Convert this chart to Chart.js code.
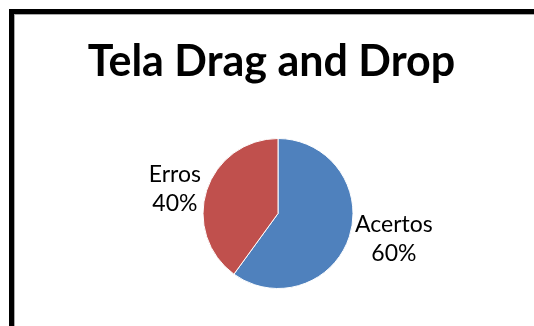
<!DOCTYPE html>
<html>
<head>
<meta charset="utf-8">
<script src="https://cdn.jsdelivr.net/npm/chart.js@4"></script>
<style>
  html, body { margin: 0; padding: 0; background: #fff; overflow: hidden; }
  canvas { display: block; }
</style>
</head>
<body>
<canvas id="pieChart" width="534" height="326"></canvas>
<script>
const chartTitle = 'Tela Drag and Drop';
const categories = ['Acertos', 'Erros'];
const percentages = [60, 40];
const sliceColors = ['#4F81BD', '#C0504D'];

// black chart frame, only the left and top edges are inside the picture
const frame = {
    id: 'frame',
    beforeDraw(chart) {
        const ctx = chart.ctx;
        ctx.save();
        ctx.fillStyle = '#fff';
        ctx.fillRect(0, 0, chart.width, chart.height);
        ctx.fillStyle = '#000';
        ctx.fillRect(9, 9, chart.width - 9, 5);
        ctx.fillRect(9, 9, 5, chart.height - 9);
        ctx.fillStyle = '#aaa';
        ctx.fillRect(14, 14, chart.width - 14, 1);
        ctx.fillRect(14, 14, 1, chart.height - 14);
        ctx.restore();
    }
};

// writes "Nome" + "NN%" just outside each slice, like Excel's best fit labels
const outsideLabels = {
    id: 'outsideLabels',
    afterDraw(chart) {
        const ctx = chart.ctx;
        ctx.save();
        ctx.fillStyle = '#000';
        ctx.textAlign = 'center';
        ctx.textBaseline = 'alphabetic';

        // title
        ctx.font = 'bold 43px Lato';
        ctx.fillText(chartTitle, 271.5, 76);

        ctx.font = '23px Lato';
        const meta = chart.getDatasetMeta(0);
        meta.data.forEach((arc, i) => {
            const p = arc.getProps(['x', 'y', 'startAngle', 'endAngle', 'outerRadius']);
            const mid = (p.startAngle + p.endAngle) / 2;
            const r = p.outerRadius + 6;
            const ax = p.x + Math.cos(mid) * r;
            const ay = p.y + Math.sin(mid) * r;
            const lines = [categories[i], percentages[i] + '%'];
            const w = Math.max(...lines.map(t => ctx.measureText(t).width));
            const cx = Math.cos(mid) >= 0 ? ax + w / 2 : ax - w / 2;
            const lineH = 29;
            const top = ay - lineH / 2;
            lines.forEach((t, k) => {
                ctx.fillText(t, cx, top + k * lineH + 8);
            });
        });
        ctx.restore();
    }
};

const ctx = document.getElementById('pieChart').getContext('2d');
const pieChart = new Chart(ctx, {
    type: 'pie',
    data: {
        labels: categories,
        datasets: [
            {
                data: percentages,
                backgroundColor: sliceColors,
                borderColor: '#ffffff',
                borderWidth: 1
            }
        ]
    },
    options: {
        responsive: false,
        animation: false,
        devicePixelRatio: 1,
        layout: {
            padding: { top: 138, bottom: 37, left: 178, right: 156 }
        },
        plugins: {
            legend: { display: false },
            title: { display: false },
            tooltip: { enabled: false }
        }
    },
    plugins: [frame, outsideLabels]
});
</script>
</body>
</html>
